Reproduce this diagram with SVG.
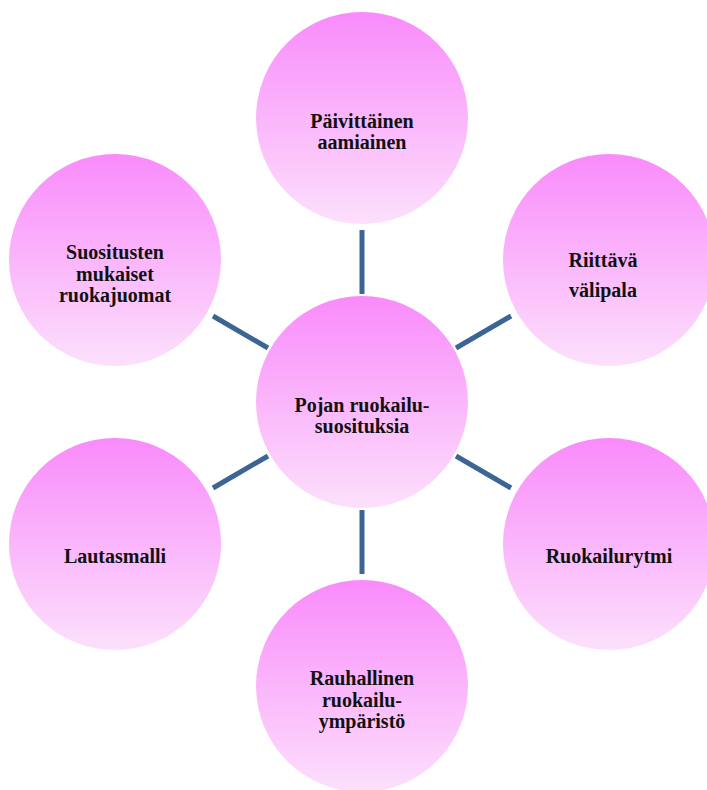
<svg xmlns="http://www.w3.org/2000/svg" width="707" height="790" viewBox="0 0 707 790">
<defs>
<linearGradient id="g" x1="0" y1="0" x2="0" y2="1">
<stop offset="0" stop-color="#f98bfb"/>
<stop offset="1" stop-color="#fce0fb"/>
</linearGradient>
<style>
circle{fill:url(#g);}
text{font-family:"Liberation Serif","Times New Roman",serif;font-weight:bold;font-size:20px;fill:#111;text-anchor:middle;}
.c line{stroke:#3d6594;stroke-width:5;}
</style>
</defs>
<rect width="707" height="790" fill="#fff"/>
<g class="c" id="connectors">
<line x1="362" y1="230" x2="362" y2="294"/>
<line x1="362" y1="510" x2="362" y2="574"/>
<line x1="456" y1="348" x2="511" y2="316"/>
<line x1="268" y1="348" x2="213" y2="316"/>
<line x1="456" y1="456" x2="511" y2="488"/>
<line x1="268" y1="456" x2="213" y2="488"/>
</g>
<g id="center"><circle cx="362" cy="402" r="106"/><text x="362" y="412">Pojan ruokailu-</text><text x="362" y="433">suosituksia</text></g>
<g id="n-top"><circle cx="362" cy="118" r="106"/><text x="362" y="128">Päivittäinen</text><text x="362" y="149">aamiainen</text></g>
<g id="n-rt"><circle cx="609" cy="260" r="106"/><text x="603" y="267">Riittävä</text><text x="603" y="297">välipala</text></g>
<g id="n-rb"><circle cx="609" cy="544" r="106"/><text x="609" y="563">Ruokailurytmi</text></g>
<g id="n-bot"><circle cx="362" cy="686" r="106"/><text x="362" y="685">Rauhallinen</text><text x="362" y="707">ruokailu-</text><text x="362" y="728">ympäristö</text></g>
<g id="n-lb"><circle cx="115" cy="544" r="106"/><text x="115" y="563">Lautasmalli</text></g>
<g id="n-lt"><circle cx="115" cy="260" r="106"/><text x="115" y="259">Suositusten</text><text x="115" y="281">mukaiset</text><text x="115" y="302">ruokajuomat</text></g>
</svg>
